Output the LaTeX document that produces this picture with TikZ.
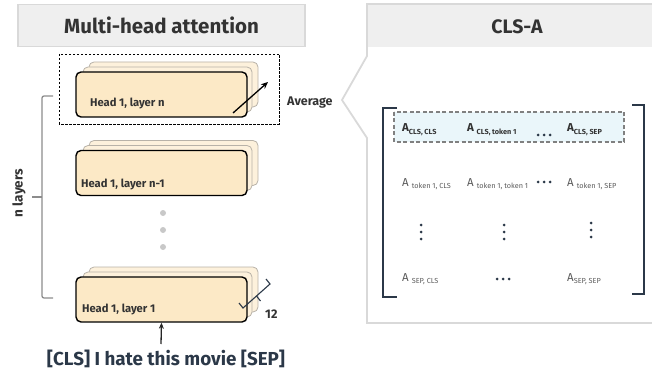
\documentclass[tikz,border=0pt]{standalone}
\usepackage{fontspec}
\setmainfont{Fira Sans}
\usetikzlibrary{arrows.meta,calc}
\definecolor{boxfill}{HTML}{FCE9C6}
\definecolor{backfill}{HTML}{FDF1DC}
\definecolor{backline}{HTML}{B8B2A8}
\definecolor{hdrfill}{HTML}{EFEFEF}
\definecolor{hdrline}{HTML}{D9D9D9}
\definecolor{txt}{HTML}{333333}
\definecolor{navy}{HTML}{2B3848}
\definecolor{hlfill}{HTML}{EAF6FA}
\definecolor{braceline}{HTML}{8C8C8C}
\definecolor{dotgray}{HTML}{C8C8C8}
\definecolor{lighttxt}{HTML}{5A5A5A}
\newcommand{\subtxt}[1]{\raisebox{-2.2pt}{\fontsize{7.3}{8}\selectfont #1}}
\begin{document}
\begin{tikzpicture}[x=1pt,y=-1pt,
  frontbox/.style={draw=black, line width=1.4pt, fill=boxfill, rounded corners=5pt, minimum width=171pt, minimum height=45pt, inner sep=0pt},
  backbox/.style={draw=backline, line width=0.8pt, fill=backfill, rounded corners=5pt, minimum width=169pt, minimum height=45pt, inner sep=0pt},
  headlabel/.style={anchor=west, inner sep=0pt, font=\bfseries\fontsize{11.2}{13}\selectfont, text=txt},
  hdr/.style={fill=hdrfill, draw=hdrline, line width=1.5pt, minimum width=287pt, minimum height=42pt, font=\bfseries\fontsize{20.5}{24}\selectfont, text=txt},
  ent/.style={anchor=base west, inner sep=0pt, font=\bfseries\fontsize{11.5}{13}\selectfont, text=txt},
  entl/.style={anchor=base west, inner sep=0pt, font=\fontsize{11.5}{13}\selectfont, text=lighttxt},
  mdot/.style={fill=navy, draw=none},
  vdot/.style={fill=dotgray, draw=none}
]
\useasboundingbox (0,0) rectangle (652,371);

% left header
\node[hdr] (hdrL) at (161.5,25.5) {Multi-head attention};

% dashed selection
\draw[dashed, line width=0.8pt, dash pattern=on 2.5pt off 1.5pt] (59,54) rectangle (279,124);

% head n
\node[backbox] (hnb2) at (173.5,84.5) {};
\node[backbox] (hnb1) at (167.5,89.5) {};
\node[frontbox] (hn) at (161.5,94.5) {};
\node[headlabel] (hnt) at (90,103) {Head 1, layer n};

% head n-1
\node[backbox] (hmb2) at (173.5,163) {};
\node[backbox] (hmb1) at (167.5,168) {};
\node[frontbox] (hm) at (161.5,173) {};
\node[headlabel] (hmt) at (81,184) {Head 1, layer n-1};

% dots
\fill[vdot] (163,213) circle (3pt);
\fill[vdot] (163,230) circle (3pt);
\fill[vdot] (163,247) circle (3pt);

% head 1
\node[backbox] (h1b2) at (173.5,289.5) {};
\node[backbox] (h1b1) at (167.5,294.5) {};
\node[frontbox] (h1) at (161.5,299.5) {};
\node[headlabel] (h1t) at (82,309) {Head 1, layer 1};

% average arrow
\coordinate (avA) at (233,113);
\coordinate (avB) at (268,82);
\draw[line width=1.3pt, -{Stealth[length=7pt,width=6pt]}] (avA) -- (avB);
\node[anchor=west, inner sep=0pt, font=\bfseries\fontsize{12.5}{14}\selectfont, text=txt] (avg) at (287,103) {Average};

% 12 brace
\coordinate (bA) at (243,308);
\coordinate (bB) at (270,284);
\coordinate (bM) at (256.5,296);
\draw[navy, line width=1.1pt] ($(bA)+(-4,-5)$) -- (bA) -- (bB) -- ($(bB)+(-4,-5)$);
\draw[navy, line width=1.1pt] (bM) -- ($(bM)+(4,5)$);
\node[anchor=west, inner sep=0pt, font=\bfseries\fontsize{12.5}{14}\selectfont, text=txt] (twelve) at (265,314) {12};

% n layers brace
\draw[braceline, line width=1.3pt, rounded corners=2pt] (53,96) -- (42,96) -- (42,298) -- (53,298);
\coordinate (brM) at (42,197);
\coordinate (brL) at (32,197);
\draw[braceline, line width=1.3pt] (brM) -- (brL);
\node[rotate=90, inner sep=0pt, font=\bfseries\fontsize{13.5}{15}\selectfont, text=txt] (nl) at (19,193) {n layers};

% input
\node[inner sep=0pt, font=\bfseries\fontsize{18.8}{22}\selectfont, text=navy] (inp) at (166,359) {[CLS] I hate this movie [SEP]};
\coordinate (inpTop) at (161,344);
\draw[line width=1.3pt, -{Stealth[length=6pt,width=5pt]}, black!85] (inpTop) -- (h1.south);

% right panel
\fill[hdrfill] (367,4) rectangle (652,47);
\draw[hdrline, line width=1.8pt] (652,4) -- (367,4) -- (367,56) -- (342,100) -- (367,138) -- (367,323) -- (652,323);
\node[inner sep=0pt, font=\bfseries\fontsize{19.5}{22}\selectfont, text=txt] (hdrR) at (517,27) {CLS-A};

% highlight row
\draw[draw=gray, fill=hlfill, line width=1.2pt, dash pattern=on 4pt off 2.5pt] (394,112) rectangle (624,142);

% brackets
\draw[navy, line width=1.5pt] (397,108) -- (383,108) -- (383,297) -- (397,297);
\draw[navy, line width=1.5pt] (632,105) -- (644,105) -- (644,294) -- (632,294);

% row 1
\node[ent] (a11) at (402,132) {A\subtxt{CLS, CLS}};
\node[ent] (a12) at (467,132) {A \subtxt{CLS, token 1}};
\node[ent] (a13) at (567,132) {A\subtxt{CLS, SEP}};
\foreach \x in {538,544,550} \fill[mdot] (\x,135) circle (1.5pt);

% row 2
\node[entl] (a21) at (402,186) {A \subtxt{token 1, CLS}};
\node[entl] (a22) at (467,186) {A \subtxt{token 1, token 1}};
\node[entl] (a23) at (567,186) {A \subtxt{token 1, SEP}};
\foreach \x in {538,544,550} \fill[mdot] (\x,182) circle (1.5pt);

% row 3
\foreach \y in {225,232,239} \fill[mdot] (421,\y) circle (1.5pt);
\foreach \y in {225,232,239} \fill[mdot] (504,\y) circle (1.5pt);
\foreach \y in {223,230,237} \fill[mdot] (591,\y) circle (1.5pt);

% row 4
\node[entl] (a41) at (402,281) {A \subtxt{SEP, CLS}};
\node[entl] (a43) at (567,281) {A\subtxt{SEP, SEP}};
\foreach \x in {497,503,509} \fill[mdot] (\x,279) circle (1.5pt);
\end{tikzpicture}
\end{document}
